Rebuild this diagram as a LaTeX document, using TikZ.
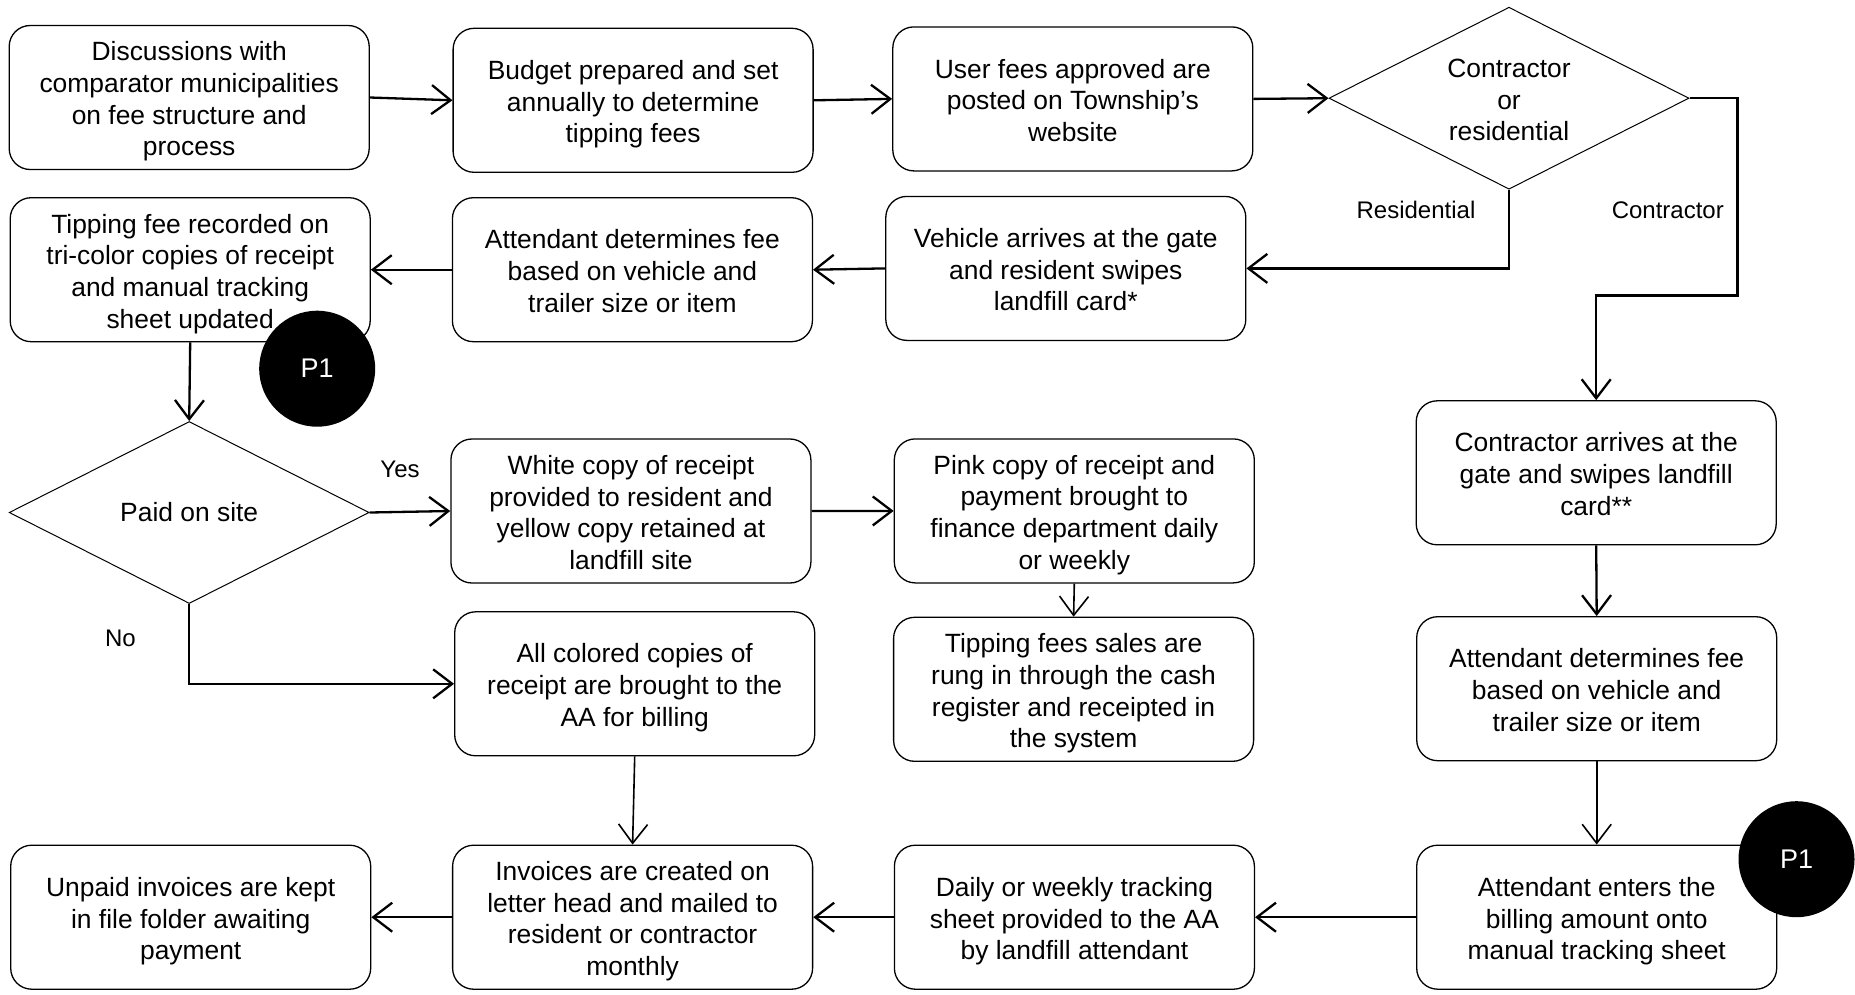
\documentclass[tikz,border=0pt]{standalone}
\usepackage{fontspec}
\setmainfont{Liberation Sans}
\usetikzlibrary{arrows.meta,shapes.geometric}

\begin{document}
\begin{tikzpicture}[
  x=1pt, y=-1pt,
  every node/.style={font=\fontsize{26.4}{31.7}\selectfont},
  % fixed text extents, so a block of #1 lines sits a little below the box centre
  nlines/.style={text height={19.2pt+(#1-1)*31.7pt+8pt}, text depth=5.5pt},
  proc/.style={draw, line width=1.3pt, rounded corners=21pt, align=center,
               minimum width=360pt, minimum height=144pt, inner sep=0pt, fill=white},
  decision/.style={draw, line width=1pt, diamond, shape aspect=2, align=center,
                   inner sep=0pt, minimum width=360pt, minimum height=182pt},
  lbl/.style={font=\fontsize{24}{28}\selectfont, inner sep=0pt},
  marker/.style={circle, fill=black, minimum size=116pt, inner sep=0pt,
                 text=white, font=\fontsize{27}{30}\selectfont},
  flow/.style={line width=2.3pt, -{Straight Barb[length=19pt,width=29pt]}},
  thinflow/.style={line width=1.6pt, -{Straight Barb[length=19pt,width=29pt]}}
]
\useasboundingbox (0,0) rectangle (1855,994);

% first row
\node[proc, nlines=4] (disc) at (189.2,97.5) {Discussions with\\comparator municipalities\\on fee structure and\\process};
\node[proc, nlines=3] (budget) at (633.1,100.3) {Budget prepared and set\\annually to determine\\tipping fees};
\node[proc, nlines=3] (fees) at (1072.8,98.9) {User fees approved are\\posted on Township’s\\website};
\node[decision, nlines=3] (kind) at (1509,98.2) {Contractor\\or\\residential};

% second row
\node[proc, nlines=4] (record) at (190.2,269.7) {Tipping fee recorded on\\tri-color copies of receipt\\and manual tracking\\sheet updated};
\node[proc, nlines=3] (feeres) at (632.4,269.7) {Attendant determines fee\\based on vehicle and\\trailer size or item};
\node[proc, nlines=3] (vehicle) at (1065.8,268.4) {Vehicle arrives at the gate\\and resident swipes\\landfill card*};

% payment branch
\node[decision] (paid) at (189.2,512.5) {Paid on site};
\node[proc, nlines=4] (white) at (630.9,511) {White copy of receipt\\provided to resident and\\yellow copy retained at\\landfill site};
\node[proc, nlines=4] (pink) at (1074.3,510.9) {Pink copy of receipt and\\payment brought to\\finance department daily\\or weekly};
\node[proc, nlines=4] (register) at (1073.6,689.3) {Tipping fees sales are\\rung in through the cash\\register and receipted in\\the system};
\node[proc, nlines=3] (colored) at (634.7,683.8) {All colored copies of\\receipt are brought to the\\AA for billing};

% contractor column
\node[proc, nlines=3] (contr) at (1596.2,472.8) {Contractor arrives at the\\gate and swipes landfill\\card**};
\node[proc, nlines=3] (feecon) at (1596.7,688.7) {Attendant determines fee\\based on vehicle and\\trailer size or item};

% bottom row
\node[proc, nlines=3] (unpaid) at (190.7,917.2) {Unpaid invoices are kept\\in file folder awaiting\\payment};
\node[proc, nlines=4] (invoice) at (632.6,917.2) {Invoices are created on\\letter head and mailed to\\resident or contractor\\monthly};
\node[proc, nlines=3] (sheet) at (1074.4,917.2) {Daily or weekly tracking\\sheet provided to the AA\\by landfill attendant};
\node[proc, nlines=3] (enter) at (1596.7,917.2) {Attendant enters the\\billing amount onto\\manual tracking sheet};

% branch labels
\node[lbl] (lres) at (1416,210) {Residential};
\node[lbl] (lcon) at (1667.8,210) {Contractor};
\node[lbl] (lyes) at (400,469.3) {Yes};
\node[lbl] (lno) at (120.4,638.3) {No};

% contractor route corners
\coordinate (c1) at (1737.6,98.2);
\coordinate (c2) at (1737.6,295.4);
\coordinate (c3) at (1596.2,295.4);

% connectors
\draw[flow] (disc.east) -- (budget.west);
\draw[flow] (budget.east) -- (fees.west);
\draw[flow] (fees.east) -- (kind.west);
\draw[flow] (kind.south) |- (vehicle.east);
\draw[flow] (kind.east) -- (c1) -- (c2) -- (c3) -- (contr.north);
\draw[flow] (vehicle.west) -- (feeres.east);
\draw[flow] (feeres.west) -- (record.east);
\draw[flow] (record.south) -- (paid.north);
\draw[flow] (paid.east) -- (white.west);
\draw[flow] (white.east) -- (pink.west);
\draw[thinflow] (pink.south) -- (register.north);
\draw[flow] (paid.south) |- (colored.west);
\draw[thinflow] (colored.south) -- (invoice.north);
\draw[flow] (contr.south) -- (feecon.north);
\draw[thinflow] (feecon.south) -- (enter.north);
\draw[flow] (enter.west) -- (sheet.east);
\draw[flow] (sheet.west) -- (invoice.east);
\draw[flow] (invoice.west) -- (unpaid.east);

% page connector markers
\node[marker] (p1a) at (317.2,368.7) {P1};
\node[marker] (p1b) at (1796.5,859.2) {P1};
\end{tikzpicture}
\end{document}
